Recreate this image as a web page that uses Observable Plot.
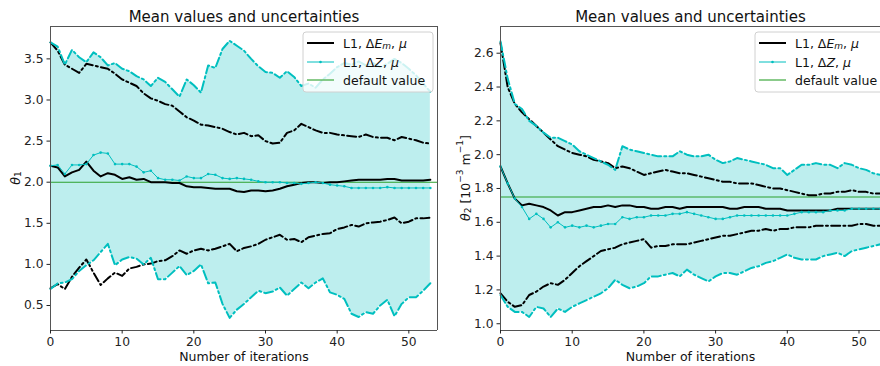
<!DOCTYPE html>
<html><head><meta charset="utf-8">
<script src="https://cdn.jsdelivr.net/npm/d3@7"></script>
<script src="https://cdn.jsdelivr.net/npm/@observablehq/plot@0.6"></script>
<style>
body{margin:0;background:#fff;}
#wrap{display:flex;width:880px;height:366px;overflow:hidden;}
#wrap svg{font-family:"DejaVu Sans",sans-serif;flex:none;}
</style></head><body><div id="wrap"></div>
<script>
// ---- data: panel 1 (theta_1) ----
const upZ1 = [3.70,3.65,3.43,3.61,3.52,3.46,3.58,3.52,3.42,3.45,3.38,3.35,3.29,3.25,3.17,3.27,3.22,3.13,3.04,3.25,3.18,3.09,3.42,3.39,3.62,3.72,3.66,3.60,3.50,3.41,3.34,3.33,3.27,3.35,3.28,3.17,3.20,3.15,3.25,3.32,3.40,3.45,3.43,3.47,3.42,3.45,3.40,3.44,3.50,3.45,3.38,3.30,3.20,3.10];
const upE1 = [3.70,3.60,3.43,3.38,3.33,3.44,3.42,3.40,3.38,3.32,3.25,3.21,3.17,3.08,3.02,2.99,2.95,2.93,2.86,2.79,2.75,2.70,2.69,2.67,2.65,2.61,2.58,2.60,2.56,2.57,2.50,2.47,2.48,2.60,2.63,2.71,2.67,2.63,2.60,2.60,2.58,2.57,2.56,2.55,2.58,2.55,2.54,2.54,2.51,2.55,2.53,2.51,2.48,2.47];
const meanE1 = [2.20,2.18,2.07,2.12,2.15,2.25,2.14,2.07,2.11,2.09,2.04,2.06,2.03,2.04,2.00,2.00,2.00,1.99,1.99,1.95,1.94,1.94,1.93,1.92,1.92,1.92,1.89,1.88,1.90,1.90,1.89,1.90,1.92,1.95,1.97,1.99,2.00,2.00,1.99,2.00,2.00,2.01,2.02,2.03,2.03,2.03,2.03,2.04,2.04,2.02,2.02,2.02,2.02,2.03];
const meanZ1 = [2.20,2.21,2.10,2.21,2.21,2.22,2.33,2.36,2.35,2.22,2.22,2.22,2.19,2.12,2.14,2.05,2.03,2.03,2.02,2.07,2.05,2.05,2.10,2.09,2.05,2.04,2.05,2.04,2.03,2.01,2.00,2.00,2.00,1.99,1.99,1.98,1.99,2.00,1.99,1.97,1.96,1.95,1.93,1.93,1.93,1.93,1.93,1.94,1.93,1.93,1.93,1.93,1.93,1.93];
const loE1 = [0.71,0.76,0.70,0.85,0.96,1.06,0.90,0.75,0.83,0.90,0.86,0.95,0.97,1.00,1.01,1.04,1.05,1.10,1.17,1.13,1.17,1.19,1.17,1.19,1.22,1.25,1.16,1.20,1.22,1.25,1.30,1.33,1.36,1.30,1.31,1.27,1.33,1.35,1.37,1.38,1.43,1.45,1.48,1.46,1.50,1.51,1.52,1.54,1.57,1.50,1.52,1.56,1.56,1.57];
const loZ1 = [0.70,0.77,0.78,0.82,0.92,0.99,1.05,1.15,1.25,0.99,1.06,1.09,1.07,1.00,1.08,0.82,0.82,0.90,0.98,0.87,0.92,1.00,0.77,0.78,0.52,0.35,0.45,0.52,0.60,0.68,0.65,0.67,0.72,0.62,0.70,0.78,0.71,0.78,0.83,0.66,0.63,0.58,0.40,0.36,0.42,0.40,0.50,0.57,0.37,0.52,0.60,0.60,0.68,0.77];
const default1 = 2.0;
const yTicks1 = [0.5,1.0,1.5,2.0,2.5,3.0,3.5];

// ---- data: panel 2 (theta_2) ----
const upZ2 = [2.67,2.45,2.30,2.27,2.20,2.17,2.13,2.10,2.10,2.08,2.06,2.02,2.00,1.98,1.96,1.94,1.91,2.05,2.03,2.02,2.01,2.00,1.99,1.99,1.99,2.02,2.00,1.99,1.99,2.00,1.97,1.95,1.96,1.98,1.97,1.96,1.95,1.94,1.92,1.92,1.88,1.91,1.94,1.94,1.95,1.94,1.94,1.92,1.95,1.94,1.92,1.91,1.89,1.88];
const upE2 = [2.66,2.40,2.30,2.25,2.21,2.17,2.13,2.09,2.05,2.03,2.01,2.00,1.99,1.97,1.96,1.95,1.92,1.93,1.92,1.90,1.88,1.89,1.90,1.91,1.90,1.89,1.89,1.88,1.87,1.86,1.85,1.84,1.84,1.83,1.83,1.83,1.82,1.81,1.80,1.80,1.79,1.78,1.77,1.76,1.76,1.77,1.77,1.78,1.78,1.79,1.78,1.78,1.77,1.77];
const meanE2 = [1.93,1.83,1.74,1.70,1.71,1.70,1.69,1.67,1.64,1.66,1.66,1.67,1.68,1.69,1.69,1.70,1.69,1.70,1.70,1.69,1.69,1.68,1.68,1.69,1.69,1.68,1.69,1.69,1.69,1.69,1.69,1.69,1.68,1.68,1.69,1.69,1.69,1.68,1.68,1.68,1.67,1.67,1.67,1.67,1.67,1.67,1.67,1.68,1.68,1.68,1.68,1.68,1.68,1.68];
const meanZ2 = [1.93,1.83,1.74,1.69,1.62,1.65,1.62,1.57,1.60,1.57,1.58,1.57,1.58,1.57,1.58,1.59,1.59,1.63,1.62,1.63,1.63,1.64,1.64,1.64,1.65,1.65,1.66,1.65,1.64,1.63,1.62,1.62,1.63,1.64,1.64,1.64,1.64,1.64,1.64,1.64,1.64,1.65,1.66,1.66,1.66,1.66,1.67,1.67,1.67,1.68,1.68,1.68,1.68,1.68];
const loE2 = [1.18,1.13,1.10,1.11,1.17,1.19,1.22,1.24,1.23,1.26,1.30,1.34,1.37,1.40,1.43,1.44,1.45,1.47,1.48,1.49,1.50,1.45,1.46,1.46,1.47,1.47,1.47,1.48,1.49,1.50,1.51,1.52,1.52,1.53,1.54,1.55,1.55,1.56,1.55,1.56,1.56,1.57,1.57,1.57,1.58,1.58,1.58,1.58,1.58,1.58,1.59,1.59,1.58,1.58];
const loZ2 = [1.17,1.10,1.07,1.07,1.04,1.10,1.09,1.04,1.09,1.07,1.10,1.12,1.14,1.16,1.18,1.21,1.26,1.23,1.21,1.22,1.24,1.28,1.28,1.29,1.30,1.28,1.32,1.29,1.27,1.25,1.28,1.30,1.30,1.29,1.31,1.33,1.34,1.36,1.37,1.39,1.41,1.39,1.38,1.38,1.38,1.40,1.41,1.42,1.40,1.43,1.44,1.45,1.46,1.47];
const default2 = 1.75;
const yTicks2 = [1.0,1.2,1.4,1.6,1.8,2.0,2.2,2.4,2.6];

const xTicks = [0,10,20,30,40,50];
const titleText = "Mean values and uncertainties";
const xLabelText = "Number of iterations";
const legendLabels = ["L1, ΔE_m, μ", "L1, ΔZ, μ", "default value"];

const CYAN = "#00bfbf", GREEN = "#2ca02c";

function makePanel(cfg) {
  const rows = cfg.meanE.map((v, i) => ({
    it: i, meanE: v, upE: cfg.upE[i], loE: cfg.loE[i],
    meanZ: cfg.meanZ[i], upZ: cfg.upZ[i], loZ: cfg.loZ[i]
  }));
  const dd = "9,3.2,2,3.2";
  const [y0, y1] = cfg.yDomain;
  const svg = Plot.plot({
    width: 440, height: 366,
    marginLeft: cfg.ml, marginRight: cfg.mr, marginTop: 26, marginBottom: 36,
    style: {fontFamily: "DejaVu Sans, sans-serif", fontSize: "12px", color: "#222", background: "white"},
    x: {domain: cfg.xDomain},
    y: {domain: cfg.yDomain},
    marks: [
      Plot.areaY(rows, {x: "it", y1: "loZ", y2: "upZ", fill: CYAN, fillOpacity: 0.26, curve: "linear"}),
      Plot.ruleY([cfg.def], {stroke: GREEN, strokeWidth: 1.1}),
      Plot.lineY(rows, {x: "it", y: "upE", stroke: "black", strokeWidth: 2, strokeDasharray: dd}),
      Plot.lineY(rows, {x: "it", y: "loE", stroke: "black", strokeWidth: 2, strokeDasharray: dd}),
      Plot.lineY(rows, {x: "it", y: "meanE", stroke: "black", strokeWidth: 2}),
      Plot.lineY(rows, {x: "it", y: "meanZ", stroke: CYAN, strokeWidth: 1}),
      Plot.dot(rows, {x: "it", y: "meanZ", r: 1.3, fill: CYAN}),
      Plot.lineY(rows, {x: "it", y: "upZ", stroke: CYAN, strokeWidth: 2, strokeDasharray: dd}),
      Plot.lineY(rows, {x: "it", y: "loZ", stroke: CYAN, strokeWidth: 2, strokeDasharray: dd}),
      Plot.ruleX([cfg.xDomain[0]], {stroke: "#555", strokeWidth: 1}),
      ...(cfg.rightEdge ? [Plot.ruleX([cfg.xDomain[1]], {stroke: "#555", strokeWidth: 1})] : []),
      Plot.ruleY([y0, y1], {stroke: "#555", strokeWidth: 1}),
      Plot.axisX({ticks: xTicks, tickSize: 3.5, tickPadding: 3, tickFormat: d => String(d), label: null, fontSize: 12.3}),
      Plot.axisY({ticks: cfg.yTicks, tickSize: 3.5, tickPadding: 3.5, tickFormat: d3.format(".1f"), label: null, fontSize: 12.3}),
      Plot.text([titleText], {frameAnchor: "top", lineAnchor: "middle", dy: -9, fontSize: 15, fill: "#111"}),
      Plot.text([xLabelText], {frameAnchor: "bottom", lineAnchor: "middle", dy: 26, fontSize: 12.5, fill: "#111"})
    ]
  });
  const s = d3.select(svg);
  // y label
  const yl = s.append("text")
    .attr("transform", `translate(${cfg.ml - 35},178) rotate(-90)`)
    .attr("text-anchor", "middle").attr("dominant-baseline", "central")
    .attr("font-size", 12.5).attr("fill", "#111");
  cfg.yLabel(yl);
  // legend
  const lx = cfg.legendX;
  const g = s.append("g").attr("font-size", 12.5).attr("fill", "#111").attr("text-anchor", "start");
  g.append("rect").attr("x", lx).attr("y", 32).attr("width", 130).attr("height", 60)
    .attr("rx", 3).attr("fill", "white").attr("fill-opacity", 0.8).attr("stroke", "#d0d0d0");
  const rowsY = [43, 62, 80];
  g.append("line").attr("x1", lx + 4).attr("x2", lx + 31).attr("y1", rowsY[0]).attr("y2", rowsY[0]).attr("stroke", "black").attr("stroke-width", 2);
  g.append("line").attr("x1", lx + 4).attr("x2", lx + 31).attr("y1", rowsY[1]).attr("y2", rowsY[1]).attr("stroke", CYAN).attr("stroke-width", 1);
  g.append("circle").attr("cx", lx + 17.5).attr("cy", rowsY[1]).attr("r", 1.3).attr("fill", CYAN);
  g.append("line").attr("x1", lx + 4).attr("x2", lx + 31).attr("y1", rowsY[2]).attr("y2", rowsY[2]).attr("stroke", GREEN).attr("stroke-width", 1.1);
  const t1 = g.append("text").attr("x", lx + 40).attr("y", rowsY[0]).attr("dominant-baseline", "central");
  t1.append("tspan").text("L1, Δ");
  t1.append("tspan").attr("font-style", "italic").text("E");
  t1.append("tspan").attr("font-style", "italic").attr("font-size", 9).attr("dy", 3).text("m");
  t1.append("tspan").attr("dy", -3).text(", ");
  t1.append("tspan").attr("font-style", "italic").text("μ");
  const t2 = g.append("text").attr("x", lx + 40).attr("y", rowsY[1]).attr("dominant-baseline", "central");
  t2.append("tspan").text("L1, Δ");
  t2.append("tspan").attr("font-style", "italic").text("Z");
  t2.append("tspan").text(", ");
  t2.append("tspan").attr("font-style", "italic").text("μ");
  g.append("text").attr("x", lx + 40).attr("y", rowsY[2]).attr("dominant-baseline", "central").text(legendLabels[2]);
  return svg;
}

const wrap = document.getElementById("wrap");
wrap.appendChild(makePanel({
  meanE: meanE1, upE: upE1, loE: loE1, meanZ: meanZ1, upZ: upZ1, loZ: loZ1, def: default1,
  xDomain: [0, 54], yDomain: [0.196, 3.894], yTicks: yTicks1, ml: 50, mr: 3, rightEdge: true,
  legendX: 303,
  yLabel: t => {
    t.append("tspan").attr("font-style", "italic").text("θ");
    t.append("tspan").attr("font-size", 9).attr("dy", 3).text("1");
  }
}));
wrap.appendChild(makePanel({
  meanE: meanE2, upE: upE2, loE: loE2, meanZ: meanZ2, upZ: upZ2, loZ: loZ2, def: default2,
  xDomain: [0, 53], yDomain: [0.96, 2.758], yTicks: yTicks2, ml: 60, mr: 0, rightEdge: false,
  legendX: 315,
  yLabel: t => {
    t.append("tspan").attr("font-style", "italic").text("θ");
    t.append("tspan").attr("font-size", 9).attr("dy", 3).text("2");
    t.append("tspan").attr("dy", -3).text(" [10");
    t.append("tspan").attr("font-size", 9).attr("dy", -5).text("−3");
    t.append("tspan").attr("dy", 5).text(" m");
    t.append("tspan").attr("font-size", 9).attr("dy", -5).text("−1");
    t.append("tspan").attr("dy", 5).text("]");
  }
}));
</script>
</body></html>
